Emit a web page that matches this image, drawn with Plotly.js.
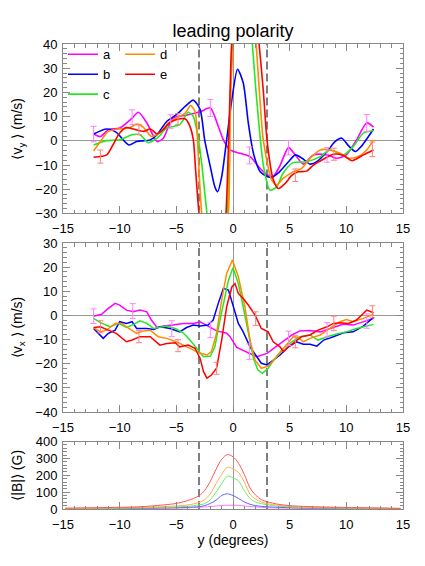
<!DOCTYPE html>
<html>
<head>
<meta charset="utf-8">
<script src="https://cdn.plot.ly/plotly-3.0.1.min.js"></script>
<style>
  body { margin: 0; background: #fff; }
  #plot { width: 425px; height: 566px; }
</style>
</head>
<body>
<div id="plot"></div>
<script>
// series names and colours
var names = ["a", "b", "c", "d", "e"];
var colors = ["#ff00ff", "#0000ff", "#22e822", "#ff8c00", "#ff0000"];
var colorsB = ["#ff77ff", "#6060ff", "#66ee66", "#ffaa55", "#ff5555"];

// boundaries of the region (degrees)
var boundaries = [-3, 3];

// ---- top panel: <v_y> (m/s) ----
var vyA_x = [-12.3, -11.7, -11.0, -10.0, -8.9, -8.35, -7.6, -6.7, -6.15, -5.3, -4.1, -2.9, -2.0, -1.3, -0.85, -0.26, 0.6, 1.5, 2.4, 3.1, 3.5, 4.1, 4.9, 5.5, 6.2, 7.1, 8.3, 9.15, 10.0, 10.9, 11.8, 12.4];
var vyA_y = [2.8, 1.8, 4.6, 5.3, 9.4, 11.8, 7.4, -0.3, 1.1, 9.4, 10.6, 12.0, 13.6, 6.0, 0.4, -3.75, -5.1, -6.5, -11.4, -14.2, -14.9, -10.7, -2.8, -5.8, -9.6, -5.8, -5.8, -7.2, -5.8, 0.4, 7.4, 5.7];

var vyB_x = [-12.3, -11.15, -10.3, -9.2, -8.5, -7.3, -6.7, -5.85, -5.0, -4.2, -3.5, -2.9, -2.5, -2.0, -1.6, -1.35, -1.0, -0.56, -0.1, 0.4, 0.9, 1.35, 1.8, 2.4, 3.0, 3.4, 4.1, 4.9, 5.5, 6.1, 6.8, 7.4, 8.3, 9.0, 9.6, 10.2, 10.8, 11.3, 12.4];
var vyB_y = [2.8, 4.9, 3.5, -1.7, -0.3, 0.4, 2.5, 8.0, 10.8, 14.3, 16.8, 12.9, 0.4, -10.7, -19.0, -21.0, -14.9, 0.4, 17.0, 29.6, 24.0, 7.4, -5.1, -12.8, -14.6, -15.1, -12.8, -8.6, -5.8, -7.2, -9.6, -8.6, -4.4, -0.3, 1.1, -2.1, -4.4, -2.4, 4.9];

var vyC_x = [-12.3, -11.15, -10.0, -8.9, -8.2, -7.5, -6.7, -5.85, -4.7, -3.95, -3.5, -3.0, -2.7, -2.3, -1.8, -1.2, -0.52, -0.38, -0.23, -0.05, 0.4, 0.9, 1.3, 1.7, 2.03, 2.7, 3.27, 3.85, 4.4, 5.3, 6.5, 7.7, 8.55, 9.75, 10.6, 11.5, 12.4];
var vyC_y = [-1.7, 0.1, 0.4, 2.5, 2.5, -0.7, 1.1, 5.3, 6.7, 11.8, 10.0, -1.0, -12.0, -30.0, -48, -50, -30, -12, 20, 40, 58, 63, 56, 40, 20.4, -10.7, -20.4, -19.0, -13.5, -9.0, -8.6, -6.5, -3.75, -5.8, -2.4, 3.2, 4.3];

var vyD_x = [-12.3, -11.7, -11.0, -10.1, -9.2, -8.5, -7.9, -7.2, -6.45, -5.7, -5.0, -4.2, -3.75, -3.35, -3.15, -3.0, -2.76, -2.3, -1.6, -1.0, -0.41, -0.3, -0.2, 0.03, 0.5, 1.0, 1.5, 2.03, 2.33, 2.67, 3.4, 3.85, 4.4, 5.3, 6.05, 6.8, 7.7, 8.55, 9.45, 10.2, 11.05, 11.8, 12.4];
var vyD_y = [-4.2, -0.3, 3.9, 4.9, 5.3, 6.9, 5.6, 1.8, 3.5, 7.4, 9.4, 11.5, 14.6, 12.2, 2.0, -12.0, -30.0, -48, -55, -48, -30, -12, 20, 40, 62, 70, 62, 40, 20.4, 0.4, -16, -18.3, -15.6, -12.8, -11.4, -7.2, -3.75, -3.75, -5.1, -7.2, -6.5, -3.75, 0.4];

var vyE_x = [-12.3, -11.15, -10.6, -10.0, -9.4, -8.8, -7.9, -7.3, -6.7, -6.15, -5.6, -4.8, -4.2, -3.8, -3.5, -3.3, -3.0, -2.5, -1.8, -1.1, -0.62, -0.47, -0.26, -0.12, 0.4, 1.0, 1.7, 2.3, 2.68, 3.0, 3.55, 4.0, 4.6, 5.2, 5.75, 6.5, 7.1, 8.0, 8.85, 9.75, 10.5, 11.5, 12.4];
var vyE_y = [-6.8, -5.8, -1.7, 3.2, 5.5, 4.9, 3.9, 4.9, 2.9, 4.6, 7.4, 9.0, 9.0, 6.0, 0.4, -12.0, -30.0, -50, -58, -52, -30, -12, 20, 40, 65, 75, 65, 40, 20.4, 0.4, -16, -19.7, -17.6, -14.2, -12.8, -12.5, -10.0, -7.5, -5.5, -6.0, -8.2, -5.8, -3.75];

// error bars on series a and e (top panel)
var vyErrA_x = [-12.3, -8.9, -5.5, -2.0, 1.45, 4.9, 8.3, 11.8];
var vyErrA_y = [2.8, 9.8, 8.0, 13.6, -6.0, -2.8, -5.8, 7.4];
var vyErrA_e = [3.2, 3.0, 2.8, 3.5, 3.5, 3.0, 3.0, 3.5];
var vyErrE_x = [-11.7, -8.3, -4.85, -1.45, 2.0, 5.5, 8.9, 12.3];
var vyErrE_y = [-6.5, 4.6, 9.0, -55, 50, -14.2, -5.5, -3.5];
var vyErrE_e = [2.7, 2.0, 2.2, 3.0, 3.0, 2.6, 2.5, 3.0];

// ---- middle panel: <v_x> (m/s) ----
var vxA_x = [-12.3, -11.6, -11.0, -10.4, -10.0, -9.4, -8.8, -8.2, -7.6, -7.2, -6.7, -6.15, -5.3, -4.4, -3.5, -2.9, -2.2, -1.45, -0.56, -0.26, 0.33, 1.2, 2.1, 3.0, 3.85, 4.6, 5.2, 5.9, 6.8, 7.7, 8.55, 9.75, 10.6, 11.5, 12.4];
var vxA_y = [-0.3, 0.5, 2.9, 5.0, 4.3, 2.2, 1.5, 2.2, 1.5, -1.9, -5.0, -4.4, -4.0, -3.3, -3.3, -2.6, -4.4, -6.4, -7.4, -8.8, -13.2, -15.0, -17.1, -15.7, -12.7, -10.2, -8.1, -6.4, -6.2, -6.8, -5.4, -3.6, -4.0, -2.6, -1.2];

var vxB_x = [-12.3, -11.9, -11.45, -11.0, -10.4, -10.0, -9.4, -8.9, -8.5, -7.6, -7.0, -6.45, -5.55, -4.7, -4.1, -3.5, -2.9, -2.2, -1.75, -1.3, -0.85, -0.4, 0.0, 0.47, 0.9, 1.5, 2.1, 2.5, 3.0, 3.4, 4.15, 4.9, 5.6, 6.2, 6.8, 7.4, 8.0, 8.85, 9.75, 10.6, 11.5, 12.4];
var vxB_y = [-5.4, -7.4, -9.5, -7.4, -6.1, -2.6, -3.3, -2.6, -5.4, -5.4, -5.8, -4.7, -5.4, -6.8, -5.0, -4.0, -4.4, -4.0, -1.9, 5.0, 11.2, 10.5, 4.3, -3.3, -6.8, -13.0, -17.1, -19.8, -20.5, -19.2, -16.4, -13.0, -10.9, -11.9, -11.9, -12.7, -10.2, -8.8, -7.2, -6.8, -4.4, -0.8];

var vxC_x = [-12.3, -11.7, -10.85, -10.1, -9.4, -8.9, -8.2, -7.6, -7.0, -6.45, -5.85, -5.1, -4.4, -3.8, -3.2, -2.6, -2.0, -1.6, -1.15, -0.7, -0.4, 0.0, 0.47, 0.9, 1.35, 1.8, 2.2, 2.6, 3.1, 3.7, 4.45, 5.2, 5.9, 6.8, 7.5, 8.3, 9.15, 10.0, 10.9, 11.8, 12.4];
var vxC_y = [-1.2, -3.0, -4.7, -3.3, -5.0, -4.0, -2.2, -3.3, -5.4, -5.0, -4.4, -5.4, -7.2, -10.2, -13.6, -17.1, -16.8, -13.0, -1.9, 7.7, 14.6, 19.8, 13.2, 3.6, -7.4, -17.8, -22.6, -24.0, -21.9, -17.8, -13.6, -10.9, -8.8, -8.1, -10.2, -8.8, -7.7, -6.8, -5.4, -4.4, -3.7];

var vxD_x = [-12.3, -11.7, -11.15, -10.4, -9.8, -9.2, -8.5, -7.9, -7.3, -6.6, -5.85, -5.0, -4.2, -3.5, -2.9, -2.3, -1.9, -1.45, -1.0, -0.56, -0.05, 0.47, 1.05, 1.5, 1.95, 2.5, 3.1, 3.85, 4.6, 5.3, 5.75, 6.2, 6.8, 7.7, 8.55, 9.45, 10.0, 10.6, 11.5, 12.4];
var vxD_y = [-5.0, -6.8, -6.1, -3.3, -3.3, -5.4, -7.4, -6.4, -6.1, -8.8, -9.5, -10.9, -12.7, -14.3, -15.7, -16.4, -15.0, -7.4, 6.3, 17.4, 23.0, 16.0, 3.6, -10.2, -18.5, -21.9, -21.0, -17.1, -13.0, -8.8, -9.0, -10.9, -9.5, -8.1, -5.4, -2.6, -1.7, -2.6, -1.2, 0.5];

var vxE_x = [-12.3, -11.7, -11.0, -10.3, -9.4, -8.9, -8.2, -7.3, -6.45, -5.85, -5.1, -4.7, -3.95, -3.35, -2.9, -2.6, -2.3, -1.9, -1.45, -1.0, -0.56, -0.1, 0.18, 0.47, 0.9, 1.35, 1.95, 2.5, 3.1, 3.55, 4.15, 4.45, 4.9, 5.5, 6.05, 6.8, 7.5, 8.3, 8.85, 9.45, 10.2, 10.9, 11.8, 12.4];
var vxE_y = [-5.0, -4.7, -6.1, -7.4, -10.9, -10.2, -8.8, -8.8, -12.3, -11.6, -11.3, -13.0, -12.3, -13.6, -17.8, -23.3, -26.0, -24.7, -21.9, -10.2, 3.6, 11.8, 13.2, 9.1, 7.0, 4.3, 0.1, -5.4, -6.8, -10.9, -13.0, -15.0, -13.0, -10.9, -8.8, -8.1, -6.1, -4.7, -3.3, -3.0, -3.3, -1.9, 2.2, 1.1];

var vxErrA_x = [-12.3, -8.85, -5.4, -2.0, 1.45, 4.9, 8.3, 11.8];
var vxErrA_y = [-0.3, 1.8, -5.5, -6.0, -15.0, -9.5, -6.0, -2.3];
var vxErrA_e = [3.0, 3.1, 3.3, 3.2, 3.2, 3.0, 3.0, 3.0];
var vxErrE_x = [-11.7, -8.3, -4.85, -1.45, 2.0, 5.5, 8.9, 12.3];
var vxErrE_y = [-4.7, -8.8, -12.5, -21.9, -1.3, -10.9, -3.3, 1.5];
var vxErrE_e = [2.5, 2.5, 2.5, 2.5, 2.8, 2.5, 3.0, 2.5];

// ---- bottom panel: <|B|> (G) ----
var bx = [-14.8, -12, -10, -8, -6, -5, -4, -3, -2.5, -2, -1.5, -1, -0.5, 0, 0.5, 1, 1.5, 2, 2.5, 3, 4, 5, 6, 8, 10, 12, 14.8];
var bA = [2, 2, 3, 3, 4, 5, 7, 10, 12, 15, 18, 21, 22, 22, 21, 18, 15, 12, 10, 8, 6, 5, 4, 3, 2, 2, 2];
var bB = [2, 3, 4, 5, 7, 8, 10, 14, 20, 33, 52, 80, 90, 80, 62, 42, 28, 20, 16, 13, 10, 8, 6, 5, 4, 3, 2];
var bC = [3, 4, 5, 7, 10, 12, 16, 24, 32, 55, 100, 150, 195, 185, 165, 110, 62, 40, 32, 25, 17, 12, 9, 7, 5, 4, 3];
var bD = [3, 5, 7, 10, 15, 18, 24, 38, 55, 90, 150, 205, 248, 238, 215, 160, 88, 58, 42, 32, 22, 16, 12, 9, 7, 5, 3];
var bE = [5, 8, 10, 14, 25, 33, 50, 78, 110, 165, 235, 295, 323, 310, 270, 205, 125, 82, 56, 43, 28, 20, 16, 12, 9, 7, 4];

var font = "Liberation Sans, Arial, Helvetica, sans-serif";
var vyX = [vyA_x, vyB_x, vyC_x, vyD_x, vyE_x];
var vyY = [vyA_y, vyB_y, vyC_y, vyD_y, vyE_y];
var vxX = [vxA_x, vxB_x, vxC_x, vxD_x, vxE_x];
var vxY = [vxA_y, vxB_y, vxC_y, vxD_y, vxE_y];
var bY = [bA, bB, bC, bD, bE];

var traces = [];

// top panel curves, these carry the legend (a-c left column, d-e right column)
for (var i = 0; i < 5; i++) {
  traces.push({
    x: vyX[i], y: vyY[i], name: names[i], type: "scatter", mode: "lines",
    line: {color: colors[i], width: 1.6, shape: "spline", smoothing: 0.7},
    xaxis: "x", yaxis: "y",
    legend: i < 3 ? "legend" : "legend2"
  });
}
function errTrace(x, y, e, color, xa, ya) {
  return {
    x: x, y: y, type: "scatter", mode: "markers", showlegend: false,
    marker: {size: 1, color: "rgba(0,0,0,0)"},
    error_y: {type: "data", array: e, color: color, thickness: 1, width: 3},
    xaxis: xa, yaxis: ya, hoverinfo: "skip"
  };
}
traces.push(errTrace(vyErrA_x, vyErrA_y, vyErrA_e, "#ff80ff", "x", "y"));
traces.push(errTrace(vyErrE_x, vyErrE_y, vyErrE_e, "#ff8080", "x", "y"));

// middle panel curves
for (var i = 0; i < 5; i++) {
  traces.push({
    x: vxX[i], y: vxY[i], name: names[i], type: "scatter", mode: "lines",
    line: {color: colors[i], width: 1.5},
    xaxis: "x2", yaxis: "y2", showlegend: false
  });
}
traces.push(errTrace(vxErrA_x, vxErrA_y, vxErrA_e, "#ff80ff", "x2", "y2"));
traces.push(errTrace(vxErrE_x, vxErrE_y, vxErrE_e, "#ff8080", "x2", "y2"));

// bottom panel curves
for (var i = 0; i < 5; i++) {
  traces.push({
    x: bx, y: bY[i], name: names[i], type: "scatter", mode: "lines",
    line: {color: colorsB[i], width: 1, shape: "spline", smoothing: 0.8},
    xaxis: "x3", yaxis: "y3", showlegend: false
  });
}

function xAxis(anchor, withTitle) {
  var ax = {
    anchor: anchor, domain: [0, 1], range: [-15, 15], dtick: 5,
    ticks: "inside", ticklen: 7, tickcolor: "#888", mirror: "allticks",
    showline: true, linecolor: "#888", linewidth: 1, showgrid: false,
    zeroline: true, zerolinecolor: "#999", zerolinewidth: 1,
    minor: {dtick: 1, ticks: "inside", ticklen: 3.5, tickcolor: "#888"},
    tickfont: {family: font, size: 13, color: "#000"}, ticklabelstandoff: 3
  };
  if (withTitle) ax.title = {text: "y (degrees)", font: {family: font, size: 14, color: "#000"}, standoff: 4};
  return ax;
}
function yAxis(anchor, domain, range, dtick, minor, title, zero) {
  return {
    anchor: anchor, domain: domain, range: range, dtick: dtick,
    ticks: "inside", ticklen: 7, tickcolor: "#888", mirror: "allticks",
    showline: true, linecolor: "#888", linewidth: 1, showgrid: false,
    zeroline: zero, zerolinecolor: "#999", zerolinewidth: 1,
    minor: {dtick: minor, ticks: "inside", ticklen: 3.5, tickcolor: "#888"},
    tickfont: {family: font, size: 13, color: "#000"}, ticklabelstandoff: 2,
    title: {text: title, font: {family: font, size: 14, color: "#000"}, standoff: 9}
  };
}

var shapes = [];
[["x", "y domain"], ["x2", "y2 domain"], ["x3", "y3 domain"]].forEach(function (r) {
  boundaries.forEach(function (b) {
    shapes.push({
      type: "line", xref: r[0], yref: r[1], x0: b, x1: b, y0: 0, y1: 1,
      line: {color: "#555", width: 1.5, dash: "8px,4px"}, layer: "below"
    });
  });
});

var layout = {
  width: 425, height: 566,
  margin: {l: 63, r: 22, t: 44, b: 57},
  paper_bgcolor: "#fff", plot_bgcolor: "#fff",
  font: {family: font, size: 13, color: "#000"},
  title: {text: "leading polarity", font: {family: font, size: 18, color: "#000"},
          x: 0.5, xref: "paper", y: 0.946, yref: "container", yanchor: "middle"},
  xaxis: xAxis("y", false),
  yaxis: yAxis("x", [0.6355, 1], [-30, 40], 10, 2, "⟨v<sub>y</sub> ⟩ (m/s)", true),
  xaxis2: xAxis("y2", false),
  yaxis2: yAxis("x2", [0.2086, 0.572], [-40, 30], 10, 2, "⟨v<sub>x</sub> ⟩ (m/s)", true),
  xaxis3: xAxis("y3", true),
  yaxis3: yAxis("x3", [0, 0.145], [0, 400], 100, 20, "⟨|B|⟩ (G)", false),
  shapes: shapes,
  showlegend: true,
  legend: {x: 0.0, y: 1.01, xanchor: "left", yanchor: "top", bgcolor: "rgba(0,0,0,0)",
           font: {family: font, size: 13, color: "#000"}, tracegroupgap: 0},
  legend2: {x: 0.168, y: 1.01, xanchor: "left", yanchor: "top", bgcolor: "rgba(0,0,0,0)",
            font: {family: font, size: 13, color: "#000"}, tracegroupgap: 0}
};

Plotly.newPlot("plot", traces, layout, {displayModeBar: false, staticPlot: true});
</script>
</body>
</html>
